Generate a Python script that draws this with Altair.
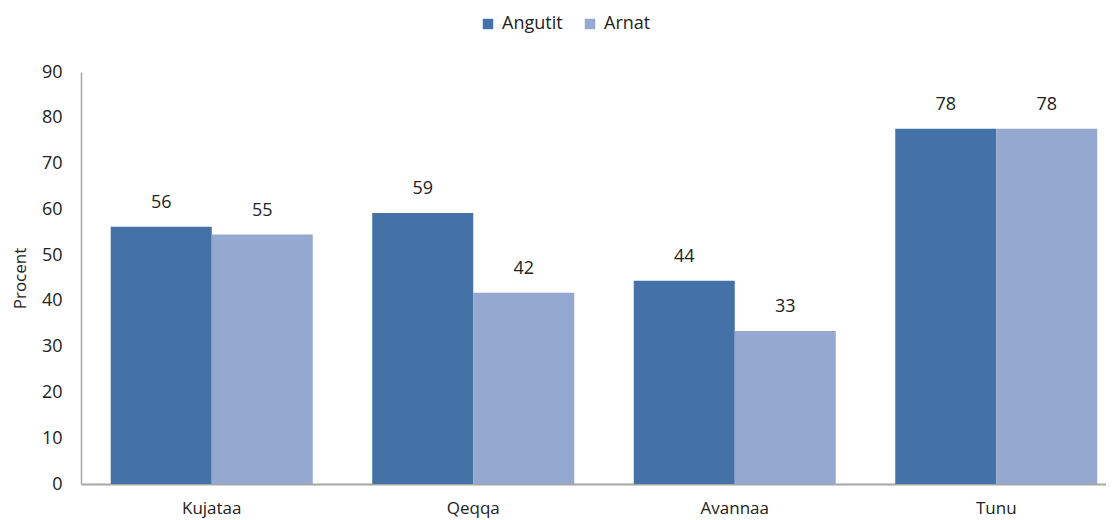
import altair as alt
import pandas as pd

regions = ["Kujataa", "Qeqqa", "Avannaa", "Tunu"]
angutit = [56.2, 59.2, 44.4, 77.6]
arnat = [54.5, 41.8, 33.4, 77.6]
series = ["Angutit", "Arnat"]
colors = ["#4472A6", "#95A9D0"]

rows = []
for i, r in enumerate(regions):
    rows.append({"region": r, "sex": series[0], "value": angutit[i]})
    rows.append({"region": r, "sex": series[1], "value": arnat[i]})
df = pd.DataFrame(rows)

FONT = "Open Sans"
TXT = "#222222"

x = alt.X("region:N", sort=regions, title=None,
          scale=alt.Scale(paddingInner=0.2275, paddingOuter=0.11375, range=[0, 1046]),
          axis=alt.Axis(labelAngle=0, ticks=False, labelPadding=16, domainColor="#A6A6A6",
                        domainWidth=2, labelFontSize=17, labelColor=TXT, labelFont=FONT))
xo = alt.XOffset("sex:N", sort=series, scale=alt.Scale(paddingInner=0, paddingOuter=0))
y = alt.Y("value:Q", title="Procent",
          scale=alt.Scale(domain=[0, 90], nice=False),
          axis=alt.Axis(values=list(range(0, 91, 10)), grid=False, ticks=False,
                        domainColor="#A6A6A6", domainWidth=1.5, labelPadding=19,
                        labelFontSize=18, labelColor=TXT, labelFont=FONT,
                        titleFont=FONT, titleFontSize=17, titleFontWeight="normal",
                        titleColor=TXT, titlePadding=12))

bars = alt.Chart(df).mark_bar().encode(
    x=x, xOffset=xo, y=y,
    color=alt.Color("sex:N", sort=series, title=None,
                    scale=alt.Scale(domain=series, range=colors),
                    legend=alt.Legend(orient="none", legendX=398, legendY=-57, direction="horizontal",
                                      symbolType="square", symbolSize=110, symbolStrokeWidth=0,
                                      labelFontSize=18, labelFont=FONT, labelColor=TXT,
                                      columnPadding=18, labelOffset=5)),
)

labels = alt.Chart(df).mark_text(dy=-15, baseline="bottom", fontSize=18, font=FONT, color=TXT).encode(
    x=x, xOffset=xo, y=y,
    text=alt.Text("value:Q", format=".0f"),
)

chart = (bars + labels).properties(
    width=1025, height=412,
    autosize=alt.AutoSizeParams(type="none"),
    padding={"left": 73, "top": 64, "right": 0, "bottom": 36},
).configure_view(stroke=None)

chart.save("out.html", embed_options={"renderer": "svg", "actions": False})
